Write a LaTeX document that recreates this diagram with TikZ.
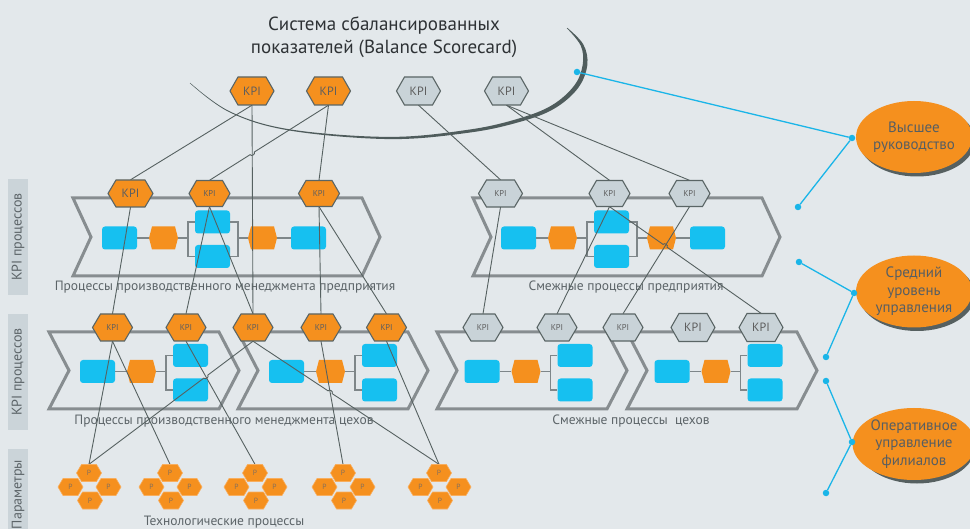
\documentclass[tikz,border=0pt]{standalone}
\usepackage{fontspec}
\setmainfont{PT Sans}
\usetikzlibrary{calc,shapes.geometric}
\definecolor{bgc}{HTML}{E3E8EB}
\definecolor{org}{HTML}{F5901E}
\definecolor{blu}{HTML}{16C0F0}
\definecolor{kgray}{HTML}{C9D3D8}
\definecolor{kbord}{HTML}{5A6565}
\definecolor{lnc}{HTML}{566161}
\definecolor{chv}{HTML}{878D90}
\definecolor{inlc}{HTML}{7E8689}
\definecolor{txt}{HTML}{5C6468}
\definecolor{ttl}{HTML}{2E3235}
\definecolor{cyanl}{HTML}{1AB5E8}
\definecolor{lab}{HTML}{CBD4D9}
\definecolor{arcc}{HTML}{4F5C5C}
\definecolor{shd}{HTML}{566060}
\definecolor{ptxt}{HTML}{86705A}
\definecolor{porb}{HTML}{F8AE5E}
\definecolor{ktxt}{HTML}{5E5E5E}
\definecolor{otxt}{HTML}{575E62}
\pgfdeclarelayer{bg}\pgfdeclarelayer{mid}\pgfsetlayers{bg,mid,main}
\newcommand\kbig{\fontsize{12}{12}\selectfont\color{ktxt}}
\newcommand\ksm{\fontsize{8.5}{9}\selectfont\color{ktxt}}
\newcommand\ptx{\fontsize{7.5}{8}\selectfont\color{ptxt}}
% name, x, y, w, h, s, style, text
\newcommand\hexnode[8]{%
  \path[#7] ({#2-#4/2},{#3}) -- ({#2-#4/2+#6},{#3-#5/2}) -- ({#2+#4/2-#6},{#3-#5/2}) -- ({#2+#4/2},{#3}) -- ({#2+#4/2-#6},{#3+#5/2}) -- ({#2-#4/2+#6},{#3+#5/2}) -- cycle;
  \node[inner sep=0pt,minimum width=#4pt,minimum height=#5pt] (#1) at ({#2},{#3}) {#8};}
% x, top, bottom, w, d
\newcommand\chev[5]{%
  \draw[chevs] ({#1},{#2}) -- ({#1+#4},{#2}) -- ({#1+#4+#5},{(#2+#3)/2}) -- ({#1+#4},{#3}) -- ({#1},{#3}) -- ({#1+#5},{(#2+#3)/2}) -- cycle;}
% prefix, origin x, ymid
\newcommand\prochalf[3]{%
  \node[bbox] (#1b1) at ({#2+46.5},{#3}) {};
  \hexnode{#1h1}{#2+90.5}{#3}{29}{23}{3}{fill=org}{}
  \node[bbox] (#1r2) at ({#2+139.5},{#3-16}) {};
  \node[bbox] (#1r3) at ({#2+139.5},{#3+18.5}) {};
  \coordinate (#1bl) at ({#2+115},{#3});
  \draw[inl] (#1b1.east) -- (#1h1.west);
  \draw[inl] (#1h1.east) -- (#1bl);
  \draw[inl] (#1r2.west) -- (#1r2.west -| #1bl) -- (#1r3.west -| #1bl) -- (#1r3.west);}
\newcommand\procfull[3]{%
  \prochalf{#1}{#2}{#3}
  \coordinate (#1brr) at ({#2+165},{#3});
  \hexnode{#1h2}{#2+189.5}{#3}{29}{23}{3}{fill=org}{}
  \node[bbox] (#1b4) at ({#2+235.5},{#3}) {};
  \draw[inl] (#1r2.east) -- (#1r2.east -| #1brr) -- (#1r3.east -| #1brr) -- (#1r3.east);
  \draw[inl] (#1brr) -- (#1h2.west);
  \draw[inl] (#1h2.east) -- (#1b4.west);}
\newcommand\hopline[3]{%
  \path (#1) -- (#2) coordinate[pos=#3] (hopc);
  \draw[conn] (#1) -- ($(hopc)!2.5pt!(#1)$) to[bend left=90,looseness=1.3] ($(hopc)!2.5pt!(#2)$) -- (#2);}
\begin{document}
\begin{tikzpicture}[x=1pt,y=-1pt,
  kO/.style={fill=org,draw=kbord,line width=1.1pt},
  kG/.style={fill=kgray,draw=kbord,line width=1.1pt},
  pH/.style={fill=org,draw=porb,line width=0.6pt},
  conn/.style={draw=lnc,line width=0.9pt},
  chevs/.style={draw=chv,line width=3pt,line join=miter},
  inl/.style={draw=inlc,line width=1.3pt},
  bbox/.style={fill=blu,rounded corners=3pt,minimum width=35pt,minimum height=23pt,inner sep=0pt},
  blueln/.style={draw=cyanl,line width=1.3pt},
  bdot/.style={circle,fill=cyanl,inner sep=0pt,minimum size=6.5pt},
  lbl/.style={text=txt,font=\fontsize{13.5}{15}\selectfont,inner sep=0pt},
  tagbox/.style={fill=lab,rotate=90,minimum height=20pt,inner sep=0pt,text=txt,font=\fontsize{14}{15}\selectfont},
  oval/.style={ellipse,fill=org,minimum width=116pt,minimum height=72pt,inner sep=0pt,align=center,text=otxt,font=\fontsize{15}{17.5}\selectfont},
  ovsh/.style={ellipse,fill=shd,minimum width=116pt,minimum height=72pt,inner sep=0pt}
]
\useasboundingbox (0,0) rectangle (970,529);
\begin{pgfonlayer}{bg}
\fill[bgc] (0,0) rectangle (970,529);
% big arc of the scorecard ellipse
\fill[arcc] plot[smooth,tension=0.6] coordinates {(190.1,82.8) (230.2,111.6) (290.1,129.4) (390,136.9) (469.85,129.5) (519.5,118.3) (552,105.2) (574.2,85.6) (582.7,64.8) (580.7,45.6) (566.8,28.2)}
  -- plot[smooth,tension=0.6] coordinates {(567.2,27.8) (583.3,44.4) (587.3,65.2) (577.8,88.4) (554,108.8) (520.5,121.7) (470.15,132.5) (390,139.1) (289.9,130.6) (229.8,112.4) (189.9,83.2)} -- cycle;
% chevrons
\chev{73}{198}{276}{289}{18}
\chev{473}{198}{276}{289}{18}
\chev{49}{332}{409}{170}{20}
\chev{238}{332}{409}{170}{20}
\chev{437}{332}{409}{170}{20}
\chev{627}{332}{409}{170}{20}
\procfull{U}{73}{238}
\procfull{V}{472}{238}
\prochalf{A}{51}{371.5}
\prochalf{B}{240}{371.5}
\prochalf{C}{435.5}{371.5}
\prochalf{D}{625.5}{371.5}
% labels
\node[lbl] (l1) at (225,287) {Процессы производственного менеджмента предприятия};
\node[lbl] (l2) at (626,287) {Смежные процессы предприятия};
\node[lbl] (l3) at (224,421) {Процессы производственного менеджмента цехов};
\node[lbl] (l4) at (631,421) {Смежные процессы\ \ цехов};
\node[lbl] (l5) at (224,522) {Технологические процессы};
\node[tagbox,minimum width=116pt] (tg1) at (18,237) {KPI процессов};
\node[tagbox,minimum width=116pt] (tg2) at (18,372) {KPI процессов};
\node[tagbox,minimum width=91pt] (tg3) at (18,494.5) {Параметры};
\end{pgfonlayer}
% title
\node[align=center,text=ttl,font=\fontsize{19}{23}\selectfont] (title) at (384,37) {Система сбалансированных\\показателей (Balance Scorecard)};
% top KPIs
\hexnode{T1}{252}{91}{44}{28}{8}{kO}{\kbig KPI}
\hexnode{T2}{328.5}{91}{44}{28}{8}{kO}{\kbig KPI}
\hexnode{T3}{418.5}{91}{44}{28}{8}{kG}{\kbig KPI}
\hexnode{T4}{506.5}{91}{44}{28}{8}{kG}{\kbig KPI}
% level 2
\hexnode{K1}{130.5}{193.5}{45}{27}{8}{kO}{\kbig KPI}
\hexnode{K2}{209.5}{193.5}{41}{26}{7.5}{kO}{\ksm KPI}
\hexnode{K3}{319}{193.5}{41}{26}{7.5}{kO}{\ksm KPI}
\hexnode{G1}{500.5}{193.5}{44}{27}{8}{kG}{\ksm KPI}
\hexnode{G2}{609.5}{193.5}{41}{26}{7.5}{kG}{\ksm KPI}
\hexnode{G3}{689.5}{193.5}{41}{26}{7.5}{kG}{\ksm KPI}
% level 3
\hexnode{C1}{112.5}{327.5}{40}{27}{8}{kO}{\ksm KPI}
\hexnode{C2}{186}{327.5}{40}{27}{8}{kO}{\ksm KPI}
\hexnode{C3}{253}{327.5}{40}{27}{8}{kO}{\ksm KPI}
\hexnode{C4}{321}{327.5}{40}{27}{8}{kO}{\ksm KPI}
\hexnode{C5}{386.5}{327.5}{40}{27}{8}{kO}{\ksm KPI}
\hexnode{D1}{483}{327.5}{40}{27}{8}{kG}{\ksm KPI}
\hexnode{D2}{557}{327.5}{40}{27}{8}{kG}{\ksm KPI}
\hexnode{D3}{623}{327.5}{40}{27}{8}{kG}{\ksm KPI}
\hexnode{D4}{693}{327.5}{44}{28}{8}{kG}{\kbig KPI}
\hexnode{D5}{761}{327.5}{44}{28}{8}{kG}{\kbig KPI}
% parameter clusters
\foreach \i/\cx in {1/89,2/170,3/255,4/343,5/439}{
  \hexnode{p\i-t}{\cx}{473}{25}{17}{5}{pH}{\ptx P}
  \hexnode{p\i-l}{\cx-18.5}{487}{25}{17}{5}{pH}{\ptx P}
  \hexnode{p\i-r}{\cx+19.5}{487}{25}{17}{5}{pH}{\ptx P}
  \hexnode{p\i-b}{\cx+1}{500.5}{25}{17}{5}{pH}{\ptx P}
}
% management ovals
\node[ovsh] (S1) at (917,140.5) {};
\node[oval] (O1) at (914,137) {Высшее\\руководство};
\node[ovsh] (S2) at (917,295) {};
\node[oval] (O2) at (914,291.5) {Средний\\уровень\\управления};
\node[ovsh] (S3) at (917,447.5) {};
\node[oval] (O3) at (914,444) {Оперативное\\управление\\филиалов};
% blue links
\node[bdot] (e0) at (577,72) {};
\node[bdot] (j1) at (852,138) {};
\node[bdot] (e1) at (798,207) {};
\node[bdot] (e2) at (799,262) {};
\node[bdot] (j2) at (854,293) {};
\node[bdot] (e3) at (826,357) {};
\node[bdot] (e4) at (826,381) {};
\node[bdot] (j3) at (852,442) {};
\node[bdot] (e5) at (826,493) {};
\draw[blueln] (e0) -- (j1) -- (e1);
\draw[blueln] (e2) -- (j2) -- (e3);
\draw[blueln] (e4) -- (j3) -- (e5);
% KPI connectors
\begin{pgfonlayer}{mid}
\draw[conn] (T1.south) -- (K1.north);
\draw[conn] (T1.south) -- (C3.north);
\hopline{T2.south}{K2.north}{0.641}
\draw[conn] (T2.south) -- (K3.north);
\draw[conn] (T3.south) -- (G1.north);
\draw[conn] (T4.south) -- (G2.north);
\draw[conn] (T4.south) -- (G3.north);
\draw[conn] (K1.south) -- (C1.north);
\draw[conn] (K2.south) -- (C2.north);
\draw[conn] (K2.south) -- (C3.north);
\draw[conn] (K3.south) -- (C4.north);
\draw[conn] (K3.south) -- (C5.north);
\draw[conn] (G1.south) -- (D1.north);
\draw[conn] (G2.south) -- (D2.north);
\hopline{G2.south}{D5.north}{0.367}
\draw[conn] (G3.south) -- (D3.north);
\draw[conn] (C1.south) -- (p1-t.north);
\draw[conn] (C1.south) -- (p2-t.north);
\draw[conn] (C2.south) -- (p3-t.north);
\hopline{C3.south}{p1-t.north}{0.2876}
\hopline{C3.south}{p5-t.north}{0.4146}
\draw[conn] (C4.south) -- (p4-t.north);
\draw[conn] (C5.south) -- (p5-t.north);
\end{pgfonlayer}
\end{tikzpicture}
\end{document}
